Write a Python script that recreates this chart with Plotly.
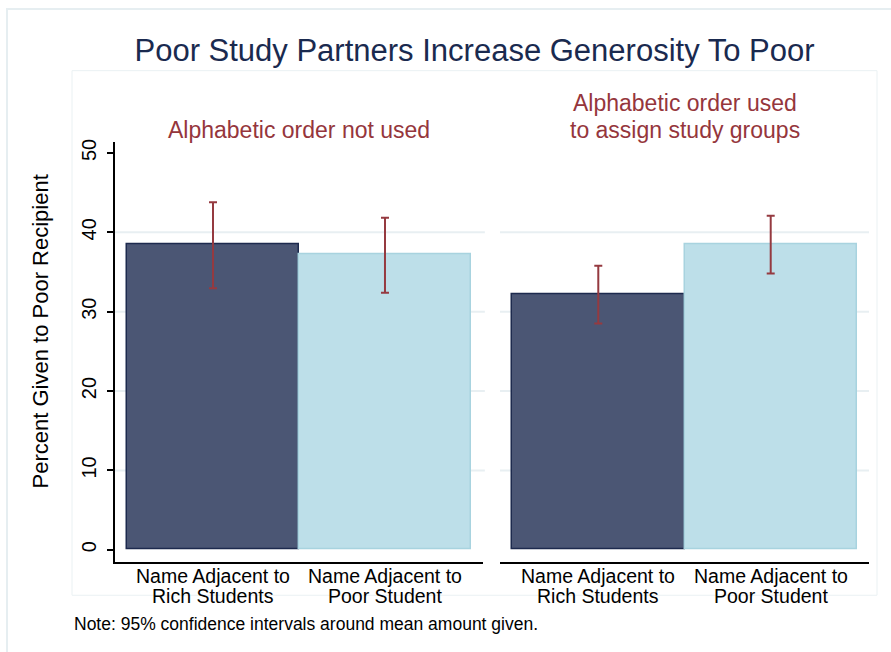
import plotly.graph_objects as go

# ---- data ----
categories = ["Name Adjacent to<br>Rich Students", "Name Adjacent to<br>Poor Student"]
panel_titles = [["Alphabetic order not used"], ["Alphabetic order used", "to assign study groups"]]
means_not_used = [38.45, 37.2]
upper_not_used = [43.8, 41.85]
lower_not_used = [32.95, 32.4]
means_used = [32.2, 38.45]
upper_used = [35.8, 42.1]
lower_used = [28.5, 34.8]
y_ticks = [0, 10, 20, 30, 40, 50]
grid_vals = [10, 20, 30, 40]
title_text = "Poor Study Partners Increase Generosity To Poor"
y_title = "Percent Given to Poor Recipient"
note_text = "Note: 95% confidence intervals around mean amount given."

W, H = 891, 652
def px(x):
    return x / W
def py(y):
    return 1 - y / H

fill_colors = ["#4b5674", "#bddfe9"]
line_colors = ["#1d2a4e", "#a8d3df"]
err_color = "#953a40"
sub_color = "#95363c"
title_color = "#1a2a4f"
font_family = "Liberation Sans, Arial, sans-serif"

fig = go.Figure()

def add_panel(means, upper, lower, xa, ya):
    plus = [u - m for u, m in zip(upper, means)]
    minus = [m - l for m, l in zip(means, lower)]
    fig.add_trace(go.Bar(
        x=categories, y=means, width=1,
        marker=dict(color=fill_colors, line=dict(color=line_colors, width=1.5)),
        error_y=dict(type="data", symmetric=False, array=plus, arrayminus=minus,
                     color=err_color, thickness=2, width=4),
        xaxis=xa, yaxis=ya, showlegend=False, hoverinfo="skip"))

add_panel(means_not_used, upper_not_used, lower_not_used, "x", "y")
add_panel(means_used, upper_used, lower_used, "x2", "y2")

yrange = [-1.59, 51.34]
xrange = [-0.57, 1.57]
ydom = [py(562), py(140)]

xcommon = dict(type="category", range=xrange, showgrid=False, zeroline=False,
               showline=True, linecolor="black", linewidth=1.5, ticks="",
               showticklabels=False)

fig.update_layout(
    width=W, height=H,
    margin=dict(l=0, r=0, t=0, b=0),
    paper_bgcolor="white", plot_bgcolor="rgba(0,0,0,0)",
    bargap=0,
    font=dict(family=font_family),
    xaxis=dict(domain=[px(115), px(483)], anchor="y", **xcommon),
    xaxis2=dict(domain=[px(500), px(869)], anchor="y2", **xcommon),
    yaxis=dict(domain=ydom, range=yrange, anchor="x", tickvals=y_ticks,
               showgrid=False, zeroline=False, showline=True, linecolor="black", linewidth=1.5,
               ticks="outside", ticklen=6, tickwidth=1.5, tickcolor="black", tickangle=-90,
               ticklabelstandoff=3,
               tickfont=dict(size=20, color="black", family=font_family)),
    yaxis2=dict(domain=ydom, range=yrange, anchor="x2", tickvals=y_ticks,
                showgrid=False, zeroline=False, showline=False, showticklabels=False, ticks=""),
    title=dict(text=title_text, x=px(474.5), y=py(47), xref="paper", yref="paper",
               xanchor="center", yanchor="middle",
               font=dict(size=31, color=title_color, family=font_family)),
)

shapes = []
# outer frame and inner graph region
shapes.append(dict(type="rect", xref="paper", yref="paper", x0=px(7), y0=py(653), x1=px(893), y1=py(6),
                   line=dict(color="#e6eef1", width=2), fillcolor="rgba(0,0,0,0)", layer="below"))
shapes.append(dict(type="rect", xref="paper", yref="paper", x0=px(72), y0=py(595), x1=px(877), y1=py(68),
                   line=dict(color="#eaf1f3", width=1), fillcolor="rgba(0,0,0,0)", layer="below"))
for g in grid_vals:
    shapes.append(dict(type="line", xref="x domain", yref="y", x0=0, x1=1.005, y0=g, y1=g,
                       line=dict(color="#e8eff2", width=2), layer="below"))
    shapes.append(dict(type="line", xref="x2 domain", yref="y2", x0=0, x1=1, y0=g, y1=g,
                       line=dict(color="#e8eff2", width=2), layer="below"))
fig.update_layout(shapes=shapes)

annotations = []
# category labels under each bar (two tight lines)
tick_line_y = [576, 596]
for xref in ["x", "x2"]:
    for cat in categories:
        for i, part in enumerate(cat.split("<br>")):
            annotations.append(dict(text=part, xref=xref, yref="paper", x=cat, y=py(tick_line_y[i]),
                                    xanchor="center", yanchor="middle", showarrow=False,
                                    font=dict(size=19.5, color="black", family=font_family)))
# panel subtitles (bottom-aligned lines)
line_step = 27
for xref, lines in zip(["x domain", "x2 domain"], panel_titles):
    n = len(lines)
    for i, t in enumerate(lines):
        yc = 127.5 - (n - 1 - i) * line_step
        annotations.append(dict(text=t, xref=xref, yref="paper", x=0.5, y=py(yc),
                                xanchor="center", yanchor="middle", showarrow=False,
                                font=dict(size=23, color=sub_color, family=font_family)))
annotations.append(dict(text=y_title, xref="paper", yref="paper", x=px(40), y=py(330),
                        textangle=-90, xanchor="center", yanchor="middle", showarrow=False,
                        font=dict(size=22, color="black", family=font_family)))
annotations.append(dict(text=note_text, xref="paper", yref="paper", x=px(72), y=py(624),
                        xanchor="left", yanchor="middle", showarrow=False,
                        font=dict(size=17.5, color="black", family=font_family)))
fig.update_layout(annotations=annotations)

fig.write_html("out.html", config={"displayModeBar": False},
               post_script="document.body.style.margin='0';")
